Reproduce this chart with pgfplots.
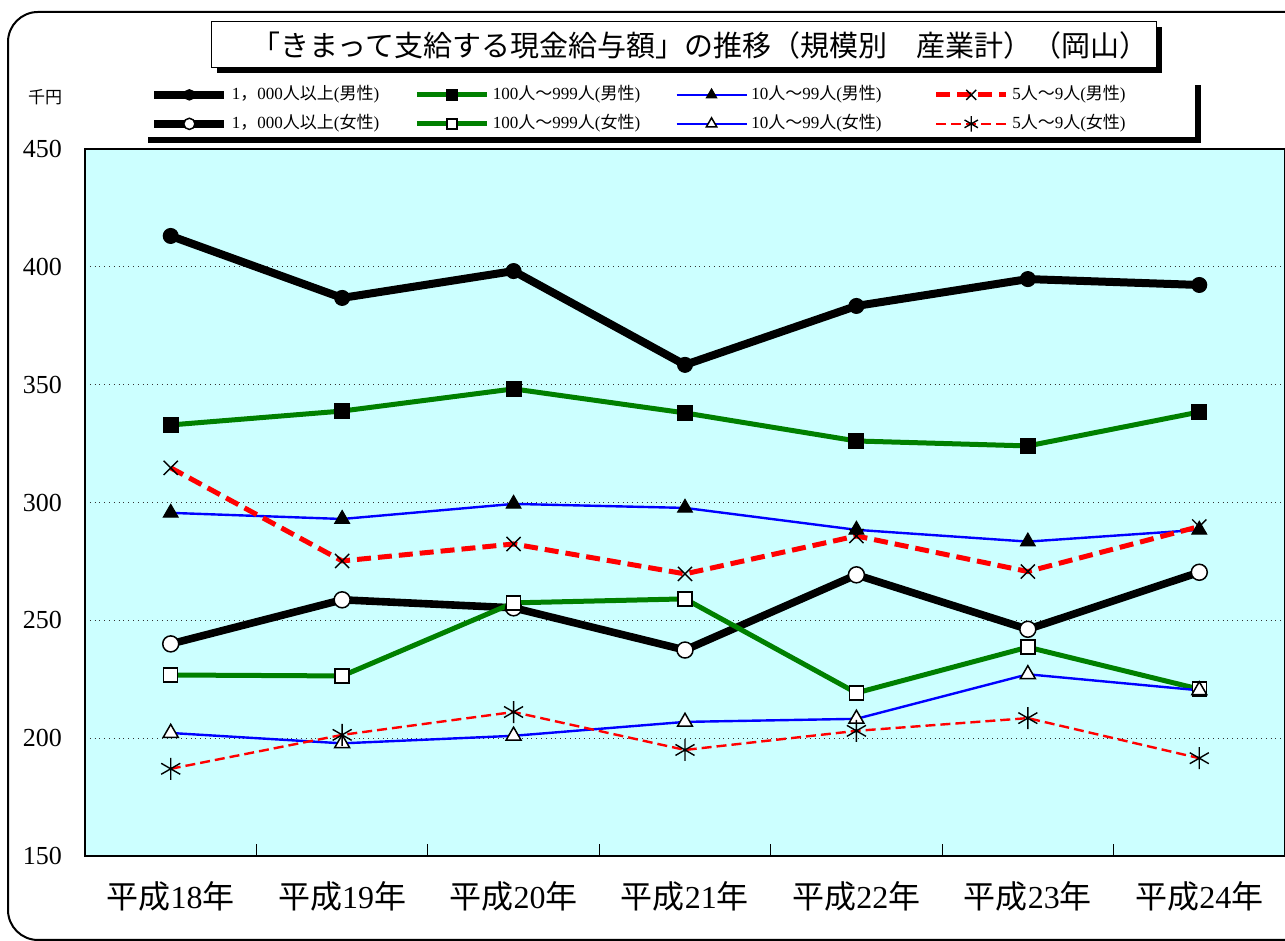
\documentclass[border=0pt]{standalone}
\usepackage{fontspec}
\setmainfont{Liberation Serif}
\newfontfamily\cjk{Noto Sans CJK JP}
\usepackage{pgfplots}
\pgfplotsset{compat=1.18}
\definecolor{bgc}{HTML}{CCFFFF}
\definecolor{dgreen}{HTML}{008000}
\newcommand\heisei[1]{{\cjk 平成}#1{\cjk 年}}
\newcommand\legtxt[1]{\makebox[89.5pt][l]{#1}}

\begin{document}
\begin{tikzpicture}
\useasboundingbox (0,0) rectangle (642.5pt,470.5pt);
% outer frame
\draw[line width=1pt, rounded corners=15pt] (4pt,0.5pt) rectangle (690pt,464.5pt);
% title box with shadow
\fill[black] (108.5pt,434pt) rectangle (581pt,457pt);
\draw[fill=white, line width=0.5pt] (105.5pt,436.5pt) rectangle (578pt,459.5pt);
\node[font=\cjk\fontsize{14.5}{14.5}\selectfont] at (350pt,448pt)
  {「きまって支給する現金給与額」の推移（規模別　産業計）（岡山）};
\node[font=\cjk\fontsize{8.5}{8.5}\selectfont] at (22.5pt,422pt) {千円};
% legend shadow
\fill[black] (597.5pt,399pt) rectangle (600.5pt,428pt);
\fill[black] (74pt,399pt) rectangle (600.5pt,402pt);

\begin{axis}[
  at={(42.5pt,42.5pt)}, anchor=south west,
  scale only axis, width=600pt, height=353.5pt,
  axis background/.style={fill=bgc},
  axis line style={black, line width=0.6pt},
  xmin=-0.5, xmax=6.5, ymin=150, ymax=450,
  xtick={0,...,6},
  xticklabels={\heisei{18},\heisei{19},\heisei{20},\heisei{21},\heisei{22},\heisei{23},\heisei{24}},
  ytick={150,200,...,450},
  major tick length=0pt,
  tick pos=left,
  extra x ticks={0.5,1.5,...,5.5},
  extra x tick labels={},
  extra x tick style={major tick length=6pt, tick style={black, line width=0.6pt}},
  ymajorgrids,
  major grid style={dotted, line width=0.6pt, black!80},
  /pgf/number format/assume math mode=true,
  yticklabel style={font=\fontsize{13}{13}\selectfont, xshift=-8pt},
  xticklabel style={font=\fontsize{16}{16}\selectfont, yshift=-9pt},
  clip=false,
  legend columns=4,
  legend style={at={(rel axis cs:0.0483,1.1047)}, anchor=north west,
    draw=none, fill=none, inner sep=3.5pt, column sep=0pt, row sep=2pt,
    font=\fontsize{8.5}{8.5}\selectfont,
    nodes={inner sep=1.75pt, text height=7pt, text depth=2pt}},
  legend cell align=left,
  legend image code/.code={\draw[#1, mark repeat=2, mark phase=2,
    /tikz/every mark/.append style={scale=0.7}]
    plot coordinates {(0pt,0pt) (17.5pt,0pt) (35pt,0pt)};},
]
% male
\addplot[black, line width=4pt, mark=*, mark size=3.75pt,
  mark options={solid, fill=black, line width=0.5pt}]
  coordinates {(0,413.1) (1,386.8) (2,398.2) (3,358.4) (4,383.4) (5,394.8) (6,392.3)};
\addlegendentry{\legtxt{1{\cjk ，}000{\cjk 人以上}({\cjk 男性})}}
\addplot[dgreen, line width=2.5pt, mark=square*, mark size=3.75pt,
  mark options={solid, draw=black, fill=black, line width=0.5pt}]
  coordinates {(0,332.9) (1,338.8) (2,348.2) (3,338.0) (4,326.1) (5,324.0) (6,338.4)};
\addlegendentry{\legtxt{100{\cjk 人～}999{\cjk 人}({\cjk 男性})}}
\addplot[blue, line width=1.2pt, mark=triangle*, mark size=4.3pt,
  mark options={solid, draw=black, fill=black, line width=0.5pt}]
  coordinates {(0,295.6) (1,293.0) (2,299.4) (3,297.7) (4,288.4) (5,283.4) (6,288.4)};
\addlegendentry{\legtxt{10{\cjk 人～}99{\cjk 人}({\cjk 男性})}}
\addplot[red, line width=2.5pt, dash pattern=on 7pt off 3.5pt, mark=x, mark size=5pt,
  mark options={solid, draw=black, line width=0.7pt}]
  coordinates {(0,314.7) (1,275.2) (2,282.4) (3,269.7) (4,285.8) (5,270.7) (6,289.8)};
\addlegendentry{\legtxt{5{\cjk 人～}9{\cjk 人}({\cjk 男性})}}
% female
\addplot[black, line width=3.8pt, mark=*, mark size=4pt,
  mark options={solid, fill=white, draw=black, line width=0.75pt}]
  coordinates {(0,240.0) (1,258.7) (2,255.3) (3,237.4) (4,269.3) (5,246.2) (6,270.4)};
\addlegendentry{\legtxt{1{\cjk ，}000{\cjk 人以上}({\cjk 女性})}}
\addplot[dgreen, line width=2.5pt, mark=square*, mark size=3.5pt,
  mark options={solid, draw=black, fill=white, line width=0.75pt}]
  coordinates {(0,226.8) (1,226.4) (2,257.4) (3,259.1) (4,219.2) (5,238.6) (6,220.8)};
\addlegendentry{\legtxt{100{\cjk 人～}999{\cjk 人}({\cjk 女性})}}
\addplot[blue, line width=1.2pt, mark=triangle*, mark size=4.3pt,
  mark options={solid, draw=black, fill=white, line width=0.75pt}]
  coordinates {(0,202.2) (1,197.8) (2,201.0) (3,206.9) (4,208.2) (5,227.1) (6,220.3)};
\addlegendentry{\legtxt{10{\cjk 人～}99{\cjk 人}({\cjk 女性})}}
\addplot[red, line width=1.2pt, dash pattern=on 5pt off 2.5pt, mark=asterisk, mark size=5.5pt,
  mark options={solid, draw=black, line width=0.7pt}]
  coordinates {(0,187.0) (1,201.4) (2,211.1) (3,195.0) (4,203.1) (5,208.5) (6,191.5)};
\addlegendentry{\legtxt{5{\cjk 人～}9{\cjk 人}({\cjk 女性})}}
\end{axis}
\end{tikzpicture}
\end{document}
